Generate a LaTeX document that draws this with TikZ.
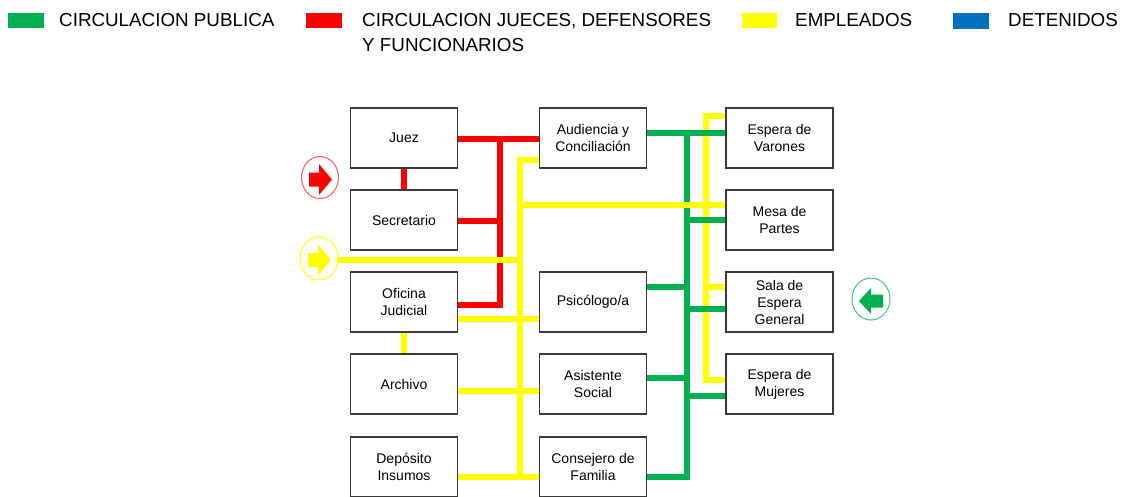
\documentclass[tikz,border=0pt]{standalone}
\usepackage{fontspec}
\setmainfont{Liberation Sans}
\usetikzlibrary{shapes.geometric}
\pgfdeclarelayer{bg}
\pgfsetlayers{bg,main}
\definecolor{cgreen}{HTML}{00B050}
\definecolor{cred}{HTML}{FF0000}
\definecolor{cyellow}{HTML}{FFFF00}
\definecolor{cblue}{HTML}{0070C0}
\definecolor{cbord}{HTML}{3A3A3A}
\definecolor{credc}{HTML}{FF5A5A}
\definecolor{cgreenc}{HTML}{3CC878}
\tikzset{
  room/.style={draw=cbord, line width=1.2pt, fill=white, minimum width=107pt, minimum height=60pt,
    inner sep=0pt, align=center, font=\fontsize{14}{17}\selectfont},
  flow/.style={line width=6.5pt, line cap=rect, line join=miter},
  legtxt/.style={anchor=north west, inner sep=0pt, align=left, font=\fontsize{18.8}{25}\selectfont},
  entry/.style={ellipse, minimum width=37pt, minimum height=42pt, inner sep=0pt, line width=1pt, fill=white},
  blockarrow/.pic={\fill (-11,-7) -- (-1,-7) -- (-1,-15.5) -- (12,0) -- (-1,15.5) -- (-1,7) -- (-11,7) -- cycle;},
  smallarrow/.pic={\fill (-12,-6.5) -- (0,-6.5) -- (0,-13) -- (12,0) -- (0,13) -- (0,6.5) -- (-12,6.5) -- cycle;}
}
\begin{document}
\begin{tikzpicture}[x=1pt,y=-1pt]
\clip (0,0) rectangle (1123,496);

% legend
\fill[cgreen] (8,13) rectangle (44,28);
\node[legtxt] (lg) at (59,13) {CIRCULACION PUBLICA};
\fill[cred] (306,13) rectangle (342,28);
\node[legtxt] (lr) at (362,13) {CIRCULACION JUECES, DEFENSORES\\Y FUNCIONARIOS};
\fill[cyellow] (742,13) rectangle (777,28);
\node[legtxt] (ly) at (795,13) {EMPLEADOS};
\fill[cblue] (953,13) rectangle (989,29);
\node[legtxt] (lb) at (1008,13) {DETENIDOS};

% rooms
\node[room] (juez) at (404,138) {Juez};
\node[room] (sec)  at (404,220) {Secretario};
\node[room] (ofi)  at (404,302) {Oficina\\Judicial};
\node[room] (arch) at (404,384) {Archivo};
\node[room] (dep)  at (404,467) {Depósito\\Insumos};
\node[room] (aud)  at (593,138) {Audiencia y\\Conciliación};
\node[room] (psi)  at (593,302) {Psicólogo/a};
\node[room] (asis) at (593,384) {Asistente\\Social};
\node[room] (cons) at (593,467) {Consejero de\\Familia};
\node[room] (var)  at (779.5,138) {Espera de\\Varones};
\node[room] (mesa) at (779.5,220) {Mesa de\\Partes};
\node[room] (sala) at (779.5,302) {Sala de\\Espera\\General};
\node[room] (muj)  at (779.5,384) {Espera de\\Mujeres};

% entry markers
\node[entry, draw=credc] (rin) at (320,177.5) {};
\pic[cred] at (320,179.5) {blockarrow};
\node[entry, draw=cyellow, minimum width=38pt, minimum height=43pt] (yin) at (319,258.5) {};
\pic[cyellow] at (319,260) {blockarrow};
\node[entry, draw=cgreenc, minimum width=38pt] (gin) at (871,299) {};
\pic[cgreen, xscale=-1] at (871,301) {smallarrow};

% junction coordinates
\coordinate (rj) at (500,139);
\coordinate (rsec) at (500,221);
\coordinate (rofi) at (500,305);
\coordinate (ytop) at (520,160);
\coordinate (yent) at (520,260);
\coordinate (ymesa) at (520,205);
\coordinate (yofi) at (520,319);
\coordinate (yarch) at (520,391);
\coordinate (ycons) at (520,477);
\coordinate (yvar) at (706,116);
\coordinate (ysala) at (706,287);
\coordinate (ymuj) at (706,380);
\coordinate (gvar) at (687,133);
\coordinate (gmesa) at (687,220);
\coordinate (gpsi) at (687,287);
\coordinate (gsala) at (687,309);
\coordinate (gasis) at (687,378);
\coordinate (gmuj) at (687,396);
\coordinate (gcons) at (687,477);

\begin{pgfonlayer}{bg}
  % red
  \draw[flow, cred] (juez.east |- rj) -- (aud.west |- rj);
  \draw[flow, cred] (rj) -- (rofi) -- (ofi.east |- rofi);
  \draw[flow, cred] (sec.east |- rsec) -- (rsec);
  \draw[flow, cred] (juez.south) -- (sec.north);
  % yellow right
  \draw[flow, cyellow] (var.west |- yvar) -- (yvar) -- (ymuj) -- (muj.west |- ymuj);
  \draw[flow, cyellow] (ysala) -- (sala.west |- ysala);
  % green
  \draw[flow, cgreen] (aud.east |- gvar) -- (var.west |- gvar);
  \draw[flow, cgreen] (gvar) -- (gcons) -- (cons.east |- gcons);
  \draw[flow, cgreen] (gmesa) -- (mesa.west |- gmesa);
  \draw[flow, cgreen] (psi.east |- gpsi) -- (gpsi);
  \draw[flow, cgreen] (gsala) -- (sala.west |- gsala);
  \draw[flow, cgreen] (asis.east |- gasis) -- (gasis);
  \draw[flow, cgreen] (gmuj) -- (muj.west |- gmuj);
  % yellow left
  \draw[flow, cyellow] (aud.west |- ytop) -- (ytop) -- (ycons) -- (cons.west |- ycons);
  \draw[flow, cyellow] (dep.east |- ycons) -- (ycons);
  \draw[flow, cyellow] (yin.east |- yent) -- (yent);
  \draw[flow, cyellow] (ymesa) -- (mesa.west |- ymesa);
  \draw[flow, cyellow] (ofi.east |- yofi) -- (psi.west |- yofi);
  \draw[flow, cyellow] (arch.east |- yarch) -- (asis.west |- yarch);
  \draw[flow, cyellow] (ofi.south) -- (arch.north);
\end{pgfonlayer}
\end{tikzpicture}
\end{document}
